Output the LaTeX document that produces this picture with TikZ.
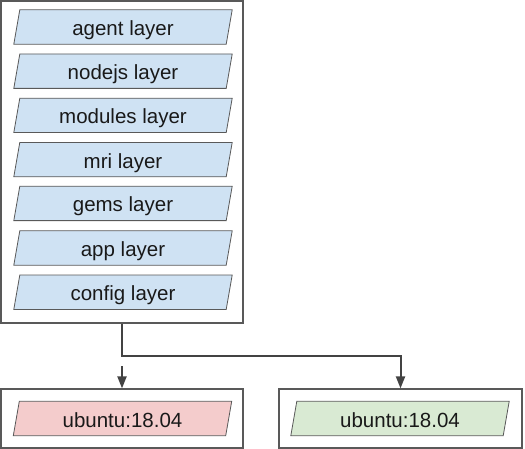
\documentclass[tikz,border=0pt]{standalone}
\usepackage{fontspec}
\setmainfont{Liberation Sans}
\usetikzlibrary{arrows.meta}
\definecolor{edge}{HTML}{595959}
\definecolor{arrowc}{HTML}{434343}
\definecolor{lblue}{HTML}{CFE2F3}
\definecolor{lred}{HTML}{F4CCCC}
\definecolor{lgreen}{HTML}{D9EAD3}
\tikzset{
  frame/.style={draw=edge, line width=1.2bp, fill=white},
  layer/.style={rectangle, minimum width=212bp, minimum height=34bp, inner sep=0pt},
  label/.style={anchor=base, inner sep=0pt, font=\fontsize{20.5bp}{24bp}\selectfont, text=black!90},
  para/.style={draw=edge, line width=0.8bp},
  conn/.style={draw=arrowc, line width=2bp},
  tip/.style={-{Triangle[length=12bp,width=9bp]}}
}
\newcommand{\paralayer}[5]{% name, x, y, colour, text
  \node[layer] (#1) at (#2bp,-#3bp) {};
  \filldraw[para, fill=#4] ([xshift=-3bp]#1.south west) -- ([xshift=3bp]#1.north west)
    -- ([xshift=3bp]#1.north east) -- ([xshift=-3bp]#1.south east) -- cycle;
  \node[label] (#1t) at ([yshift=-8.5bp]#1.center) {#5};
}
\begin{document}
\begin{tikzpicture}[x=1bp,y=1bp]
\useasboundingbox (0,0) rectangle (525,-449);
% frames
\node[frame, minimum width=242bp, minimum height=322bp, inner sep=0pt] (top) at (122,-162) {};
\node[frame, minimum width=242bp, minimum height=59bp, inner sep=0pt] (boxL) at (122,-418.5) {};
\node[frame, minimum width=243bp, minimum height=59bp, inner sep=0pt] (boxR) at (400.5,-418.5) {};
% layers
\foreach \n/\y/\t in {a/27/agent layer, b/71.2/nodejs layer, c/115.4/modules layer,
  d/159.6/mri layer, e/203.4/gems layer, f/248/app layer, g/292.2/config layer}{
  \paralayer{\n}{123}{\y}{lblue}{\t}
}
\paralayer{uL}{122.5}{418.5}{lred}{ubuntu:18.04}
\paralayer{uR}{400}{418.5}{lgreen}{ubuntu:18.04}
% connectors
\coordinate (bend) at (122,-356);
\coordinate (stub) at (122,-366);
\draw[conn, tip] (top.south) -- (bend) -| (boxR.north);
\draw[conn, tip] (stub) -- (boxL.north);
\end{tikzpicture}
\end{document}
